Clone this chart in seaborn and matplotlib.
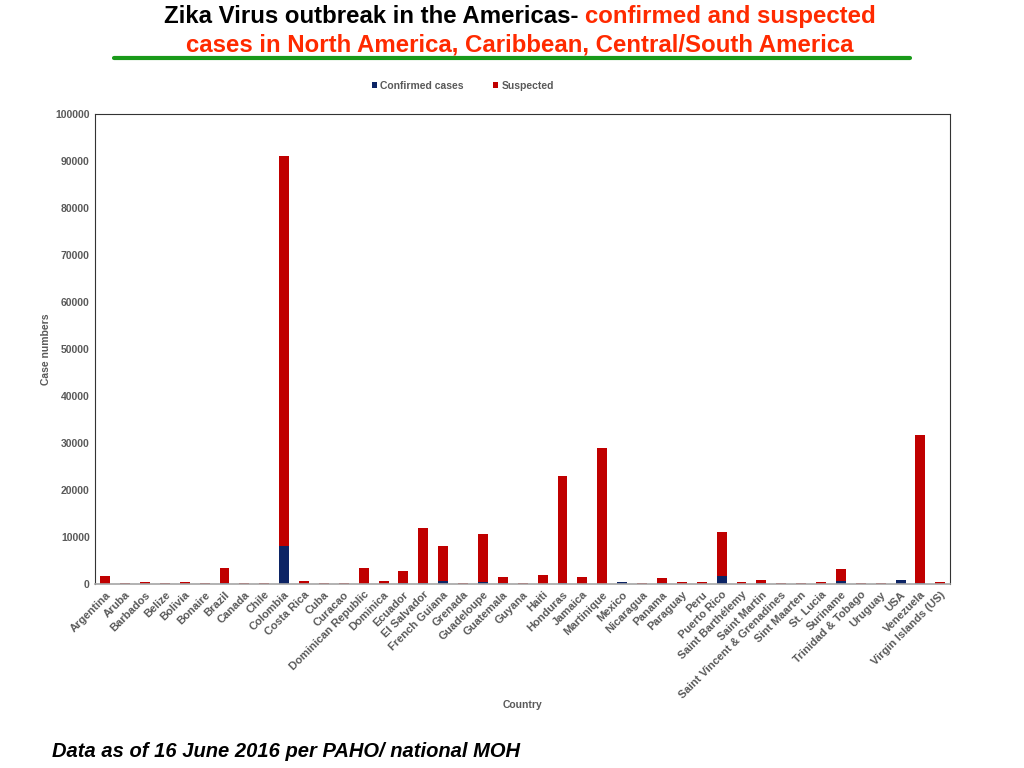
import matplotlib
matplotlib.use("Agg")
import matplotlib.pyplot as plt
from matplotlib import font_manager
import pandas as pd
import seaborn as sns

countries = ["Argentina", "Aruba", "Barbados", "Belize", "Bolivia", "Bonaire", "Brazil",
             "Canada", "Chile", "Colombia", "Costa Rica", "Cuba", "Curacao",
             "Dominican Republic", "Dominica", "Ecuador", "El Salvador", "French Guiana",
             "Grenada", "Guadeloupe", "Guatemala", "Guyana", "Haiti", "Honduras", "Jamaica",
             "Martinique", "Mexico", "Nicaragua", "Panama", "Paraguay", "Peru", "Puerto Rico",
             "Saint Barthélemy", "Saint Martin", "Saint Vincent & Grenadines", "Sint Maarten",
             "St. Lucia", "Suriname", "Trinidad & Tobago", "Uruguay", "USA", "Venezuela",
             "Virgin Islands (US)"]
confirmed = [20, 80, 30, 80, 40, 80, 150, 80, 80, 8100, 40, 80, 80,
             100, 30, 120, 150, 600, 80, 400, 300, 80, 60, 150, 60,
             100, 400, 80, 200, 30, 40, 1700, 40, 150, 80, 80,
             40, 550, 80, 80, 950, 300, 40]
suspected = [1700, 220, 350, 220, 280, 220, 3300, 220, 220, 83000, 550, 220, 220,
             3300, 650, 2700, 11800, 7500, 220, 10200, 1200, 220, 1850, 22800, 1450,
             28800, 0, 220, 1000, 450, 280, 9400, 280, 750, 220, 220,
             280, 2700, 220, 220, 0, 31400, 350]

df = pd.DataFrame({"Country": countries, "Confirmed": confirmed, "Suspected": suspected})
df["Total"] = df["Confirmed"] + df["Suspected"]

sns.set_style("white")
plt.rcParams["font.family"] = ["Liberation Sans", "DejaVu Sans"]

installed = {f.name for f in font_manager.fontManager.ttflist}
title_font = ["Liberation Sans Narrow", "Liberation Sans"] if "Liberation Sans Narrow" in installed \
    else ["Liberation Sans"]
title_size = 20 if "Liberation Sans Narrow" in installed else 17.3

navy = "#0c2465"
red = "#c00000"
grey = "#595959"

fig = plt.figure(figsize=(10.24, 7.68), dpi=100)
ax = fig.add_axes([0.093, 0.2396, 0.835, 0.612])

sns.barplot(data=df, x="Country", y="Total", color=red, width=0.5, ax=ax,
            saturation=1, label="Suspected", linewidth=0)
sns.barplot(data=df, x="Country", y="Confirmed", color=navy, width=0.5, ax=ax,
            saturation=1, label="Confirmed cases", linewidth=0)
handles, labels = ax.get_legend_handles_labels()
if ax.get_legend() is not None:
    ax.get_legend().remove()

ax.set_ylim(0, 100000)
ax.set_xlim(-0.5, len(countries) - 0.5)
ax.set_yticks(range(0, 100001, 10000))
ax.set_yticklabels([str(v) for v in range(0, 100001, 10000)],
                   fontsize=7.5, fontweight="bold", color=grey)
ax.set_xticks(range(len(countries)))
ax.set_xticklabels(countries, rotation=45, ha="right", rotation_mode="anchor",
                   fontsize=8, fontweight="bold", color=grey)
ax.tick_params(axis="both", length=0, pad=4)
ax.set_xlabel("Country", fontsize=7.5, fontweight="bold", color=grey, labelpad=0)
ax.set_ylabel("Case numbers", fontsize=7.5, fontweight="bold", color=grey, labelpad=3)
for side in ["top", "right", "left"]:
    ax.spines[side].set_color("#333333")
    ax.spines[side].set_linewidth(0.8)
ax.spines["bottom"].set_color("#a6a6a6")
ax.spines["bottom"].set_linewidth(1.2)

order = [labels.index("Confirmed cases"), labels.index("Suspected")]
fig.legend([handles[i] for i in order], [labels[i] for i in order],
           loc="center", bbox_to_anchor=(0.452, 0.888), ncol=2, frameon=False,
           handlelength=0.5, handleheight=0.5, handletextpad=0.3, columnspacing=2.8,
           prop={"size": 7.5, "weight": "bold"}, labelcolor=grey)

# title in two colours
fig.canvas.draw()
renderer = fig.canvas.get_renderer()
t1 = fig.text(0, 0.979, "Zika Virus outbreak in the Americas- ", fontsize=title_size,
              fontweight="bold", color="black", va="center", family=title_font)
t2 = fig.text(0, 0.979, "confirmed and suspected", fontsize=title_size,
              fontweight="bold", color="#ff2a00", va="center", family=title_font)
w1 = t1.get_window_extent(renderer).width / fig.bbox.width
w2 = t2.get_window_extent(renderer).width / fig.bbox.width
x0 = 0.508 - (w1 + w2) / 2
t1.set_x(x0)
t2.set_x(x0 + w1)
fig.text(0.508, 0.941, "cases in North America, Caribbean, Central/South America",
         fontsize=title_size, fontweight="bold", color="#ff2a00", ha="center", va="center",
         family=title_font)
fig.add_artist(plt.Line2D([0.111, 0.889], [0.924, 0.924], color="#1a9a1a", linewidth=3))

fig.text(0.051, 0.021, "Data as of 16 June 2016 per PAHO/ national MOH", fontsize=14.5,
         fontweight="bold", fontstyle="italic", color="black", va="center")

fig.savefig("out.png", dpi=100)
